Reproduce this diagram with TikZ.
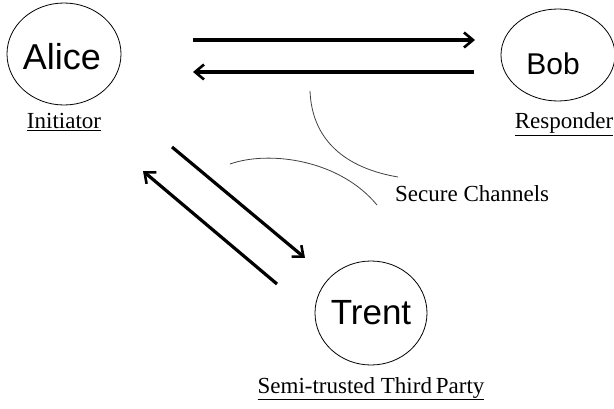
\documentclass[tikz,border=0pt]{standalone}
\usepackage{fontspec}
\setmainfont{Liberation Serif}
\newfontfamily\arialf{Liberation Sans}
\usetikzlibrary{arrows.meta,shapes.geometric}
\tikzset{
  party/.style={draw, ellipse, line width=0.8pt, inner sep=0pt},
  pname/.style={inner sep=0pt},
  role/.style={font=\fontsize{23}{25}\selectfont, inner sep=0pt, anchor=base},
  msg/.style={line width=3.2pt, -{Straight Barb[length=9pt,width=15pt,line width=2.6pt]}},
  chan/.style={line width=0.8pt, draw=black!75}
}
\begin{document}
\begin{tikzpicture}[x=1pt,y=-1pt]
\useasboundingbox (0,0) rectangle (614,409);
% parties
\node[party, minimum width=114pt, minimum height=102pt] (alice) at (64,54) {};
\node[party, minimum width=114pt, minimum height=92pt] (bob) at (558,55) {};
\node[party, minimum width=112pt, minimum height=104pt] (trent) at (371,313) {};
\node[pname, font=\arialf\fontsize{36}{38}\selectfont] (alicet) at (62,57) {Alice};
\node[pname, font=\arialf\fontsize{30}{33}\selectfont] (bobt) at (553,64) {Bob};
\node[pname, font=\arialf\fontsize{35}{38}\selectfont] (trentt) at (371,313) {Trent};
% roles
\node[role] (init) at (64,129) {\underline{Initiator}};
\node[role] (resp) at (564,129) {\underline{Responder}};
\node[role] (semi) at (371,393) {\underline{Semi-trusted Third\,Party}};
\node[role, anchor=base west] (sec) at (395,202) {Secure Channels};
% message arrows
\coordinate (a1) at (193,40); \coordinate (b1) at (475,40);
\coordinate (b2) at (474,72); \coordinate (a2) at (193,72);
\draw[msg] (a1) -- (b1);
\draw[msg] (b2) -- (a2);
\coordinate (a3) at (172,147); \coordinate (t3) at (305,258);
\coordinate (t4) at (277,284); \coordinate (a4) at (143,171);
\draw[msg] (a3) -- (t3);
\draw[msg] (t4) -- (a4);
% secure channel arcs
\coordinate (c1s) at (310,91); \coordinate (c1e) at (398,177);
\coordinate (c2s) at (230,164); \coordinate (c2e) at (377,205);
\draw[chan] (c1s) .. controls (312,140) and (345,168) .. (c1e);
\draw[chan] (c2s) .. controls (270,150) and (340,160) .. (c2e);
\end{tikzpicture}
\end{document}
